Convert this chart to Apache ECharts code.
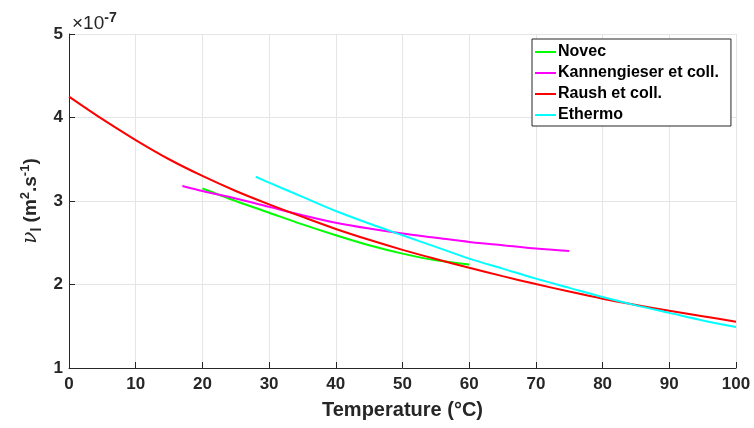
<!DOCTYPE html>
<html><head><meta charset="utf-8">
<script src="https://cdn.jsdelivr.net/npm/echarts@6/dist/echarts.min.js"></script>
<style>html,body{margin:0;padding:0;background:#fff}#c{width:754px;height:428px}</style>
</head><body><div id="c"></div>
<script>
// values in units of 1e-7 m^2/s
const novecT = [20, 25, 30, 35, 40, 45, 50, 55, 60];
const novecNu = [3.15, 3.00, 2.86, 2.72, 2.59, 2.47, 2.37, 2.29, 2.24];
const kannT = [17, 20, 25, 30, 35, 40, 45, 50, 55, 60, 65, 70, 75];
const kannNu = [3.18, 3.12, 3.03, 2.93, 2.83, 2.74, 2.67, 2.61, 2.56, 2.51, 2.47, 2.43, 2.40];
const raushT = [0, 5, 10, 15, 20, 25, 30, 35, 40, 45, 50, 55, 60, 65, 70, 75, 80, 85, 90, 95, 100];
const raushNu = [4.25, 3.98, 3.73, 3.50, 3.30, 3.12, 2.96, 2.81, 2.665, 2.535, 2.415, 2.305, 2.20, 2.10, 2.005, 1.915, 1.83, 1.755, 1.685, 1.62, 1.555];
const ethT = [28, 30, 35, 40, 45, 50, 55, 60, 65, 70, 75, 80, 85, 90, 95, 100];
const ethNu = [3.29, 3.22, 3.05, 2.88, 2.73, 2.59, 2.45, 2.31, 2.19, 2.07, 1.96, 1.85, 1.75, 1.66, 1.57, 1.49];
const seriesNames = ['Novec', 'Kannengieser et coll.', 'Raush et coll.', 'Ethermo'];
const seriesColors = ['#00ff00', '#ff00ff', '#ff0000', '#00ffff'];
const xTicks = [0, 10, 20, 30, 40, 50, 60, 70, 80, 90, 100];
const yTicks = [1, 2, 3, 4, 5];

const pair = (xs, ys) => xs.map((x, i) => [x, ys[i]]);
const allData = [pair(novecT, novecNu), pair(kannT, kannNu), pair(raushT, raushNu), pair(ethT, ethNu)];
const FONT = 'Liberation Sans, Arial, Helvetica, sans-serif';

const chart = echarts.init(document.getElementById('c'), null, {renderer: 'canvas'});
chart.setOption({
  animation: false,
  backgroundColor: '#fff',
  grid: {left: 69, right: 18, top: 34, bottom: 60, containLabel: false},
  xAxis: {
    type: 'value', min: xTicks[0], max: xTicks[xTicks.length - 1], interval: 10,
    name: 'Temperature (°C)', nameLocation: 'middle', nameGap: 32,
    nameTextStyle: {fontFamily: FONT, fontWeight: 'bold', fontSize: 20, color: '#262626'},
    axisLine: {show: true, lineStyle: {color: '#262626', width: 1}},
    axisTick: {show: true, inside: true, length: 6, lineStyle: {color: '#262626'}},
    axisLabel: {fontFamily: FONT, fontWeight: 'bold', fontSize: 17, color: '#262626', margin: 8},
    splitLine: {show: true, lineStyle: {color: '#e5e5e5', width: 1}}
  },
  yAxis: {
    type: 'value', min: yTicks[0], max: yTicks[yTicks.length - 1], interval: 1,
    axisLine: {show: true, lineStyle: {color: '#262626', width: 1}},
    axisTick: {show: true, inside: true, length: 6, lineStyle: {color: '#262626'}},
    axisLabel: {fontFamily: FONT, fontWeight: 'bold', fontSize: 17, color: '#262626', margin: 6},
    splitLine: {show: true, lineStyle: {color: '#e5e5e5', width: 1}}
  },
  legend: {
    orient: 'vertical', left: 532, top: 39,
    data: seriesNames,
    icon: 'rect', itemWidth: 21, itemHeight: 2, itemGap: 5,
    padding: [5, 12, 3, 3],
    backgroundColor: '#fff',
    borderColor: '#262626', borderWidth: 1,
    textStyle: {fontFamily: FONT, fontWeight: 'bold', fontSize: 16, color: '#000', padding: [0, 0, 0, -3], lineHeight: 16},
  },
  graphic: [
    {
      type: 'text', left: 72, top: 11,
      style: {
        text: '{m|×}{b|10}{s|-7}',
        rich: {
          m: {fontFamily: FONT, fontSize: 19, fill: '#262626'},
          b: {fontFamily: FONT, fontSize: 19, fill: '#262626'},
          s: {fontFamily: FONT, fontSize: 14, fontWeight: 'bold', fill: '#262626', padding: [0, 0, 12, 0]}
        }
      }
    },
    {
      type: 'text', x: 31, y: 201, rotation: Math.PI / 2,
      style: {
        text: '{n|ν}{sub|l}{b| (m}{sup|2}{b|.s}{sup|-1}{b|)}',
        align: 'center', verticalAlign: 'middle',
        rich: {
          n: {fontFamily: 'DejaVu Serif, serif', fontStyle: 'italic', fontSize: 20, fill: '#262626'},
          sub: {fontFamily: FONT, fontWeight: 'bold', fontSize: 14, fill: '#262626', padding: [12, 0, 0, 0]},
          b: {fontFamily: FONT, fontWeight: 'bold', fontSize: 19, fill: '#262626'},
          sup: {fontFamily: FONT, fontWeight: 'bold', fontSize: 13, fill: '#262626', padding: [0, 0, 12, 0]}
        }
      }
    }
  ],
  series: seriesNames.map((n, i) => ({
    name: n, type: 'line', data: allData[i], smooth: 0.3, showSymbol: false, symbol: 'none',
    lineStyle: {color: seriesColors[i], width: 2}, itemStyle: {color: seriesColors[i]}
  }))
});
</script></body></html>
